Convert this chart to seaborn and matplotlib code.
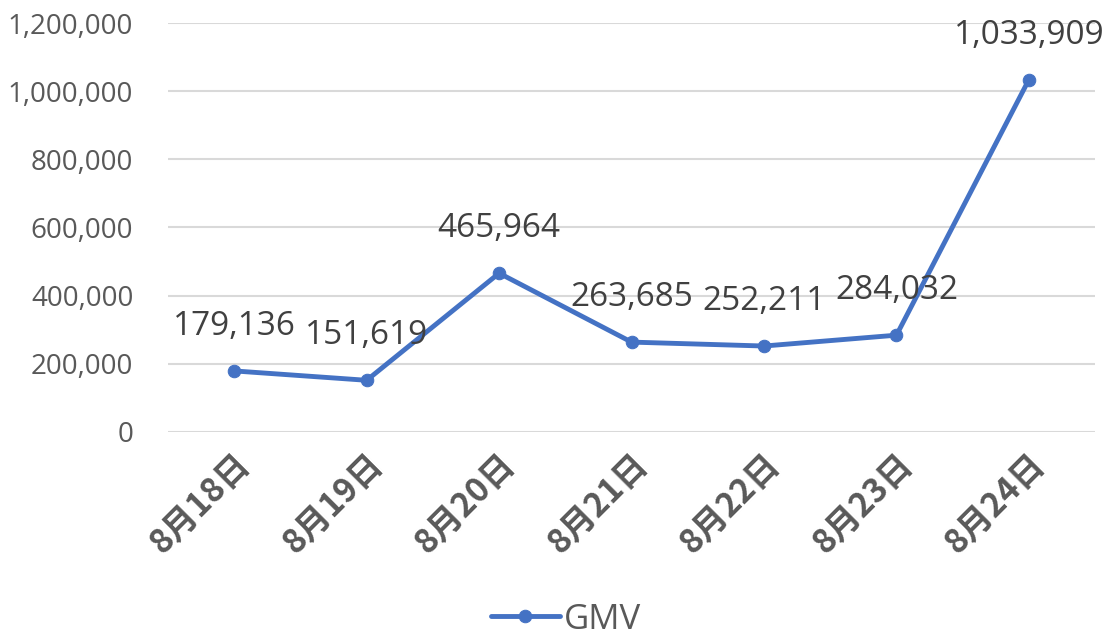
import numpy as np
import pandas as pd
import matplotlib
matplotlib.use("Agg")
import matplotlib.pyplot as plt
import seaborn as sns
from matplotlib.ticker import FuncFormatter, MultipleLocator

# Data
dates = ["8月18日", "8月19日", "8月20日", "8月21日", "8月22日", "8月23日", "8月24日"]
gmv = [179136, 151619, 465964, 263685, 252211, 284032, 1033909]
series_name = "GMV"

df = pd.DataFrame({"date": dates, "gmv": gmv})

sns.set_style("white")
plt.rcParams["font.family"] = ["Open Sans", "Noto Sans CJK SC", "DejaVu Sans"]

blue = "#4472C4"
text_gray = "#595959"
grid_gray = "#D9D9D9"

fig = plt.figure(figsize=(11.09, 6.36), dpi=100)
ax = fig.add_axes([0.1515, 0.3208, 0.836, 0.643])

sns.lineplot(data=df, x="date", y="gmv", ax=ax, color=blue, linewidth=3.5,
             marker="o", markersize=9, markeredgecolor=blue, label=series_name,
             sort=False)

ax.set_xlim(-0.5, len(dates) - 0.5)
ax.set_ylim(0, 1200000)
ax.yaxis.set_major_locator(MultipleLocator(200000))
ax.yaxis.set_major_formatter(FuncFormatter(lambda v, p: f"{int(v):,}"))
ax.grid(axis="y", color=grid_gray, linewidth=1.5)
ax.set_axisbelow(True)
for s in ["top", "right", "left", "bottom"]:
    ax.spines[s].set_visible(False)

ax.set_xlabel("")
ax.set_ylabel("")
ax.tick_params(axis="y", length=0, labelsize=20, labelcolor=text_gray, pad=25)
ax.tick_params(axis="x", length=0, pad=12)
ax.set_xticks(range(len(dates)))
ax.set_xticklabels(dates, rotation=45, ha="right", rotation_mode="anchor",
                   fontsize=24, fontweight="bold", color=text_gray,
                   family=["Noto Sans CJK SC", "DejaVu Sans"])

# Data labels
for i, v in enumerate(gmv):
    ax.annotate(f"{v:,}", (i, v), xytext=(0, 32), textcoords="offset points",
                ha="center", va="center", fontsize=24, color="#404040",
                annotation_clip=False)

ax.get_legend().remove()
handles, labels = ax.get_legend_handles_labels()
fig.legend(handles, labels, loc="lower center", bbox_to_anchor=(0.51, -0.05),
           frameon=False, fontsize=25, labelcolor=text_gray, handlelength=2.0,
           handletextpad=0.1)

fig.savefig("out.png", dpi=100)
